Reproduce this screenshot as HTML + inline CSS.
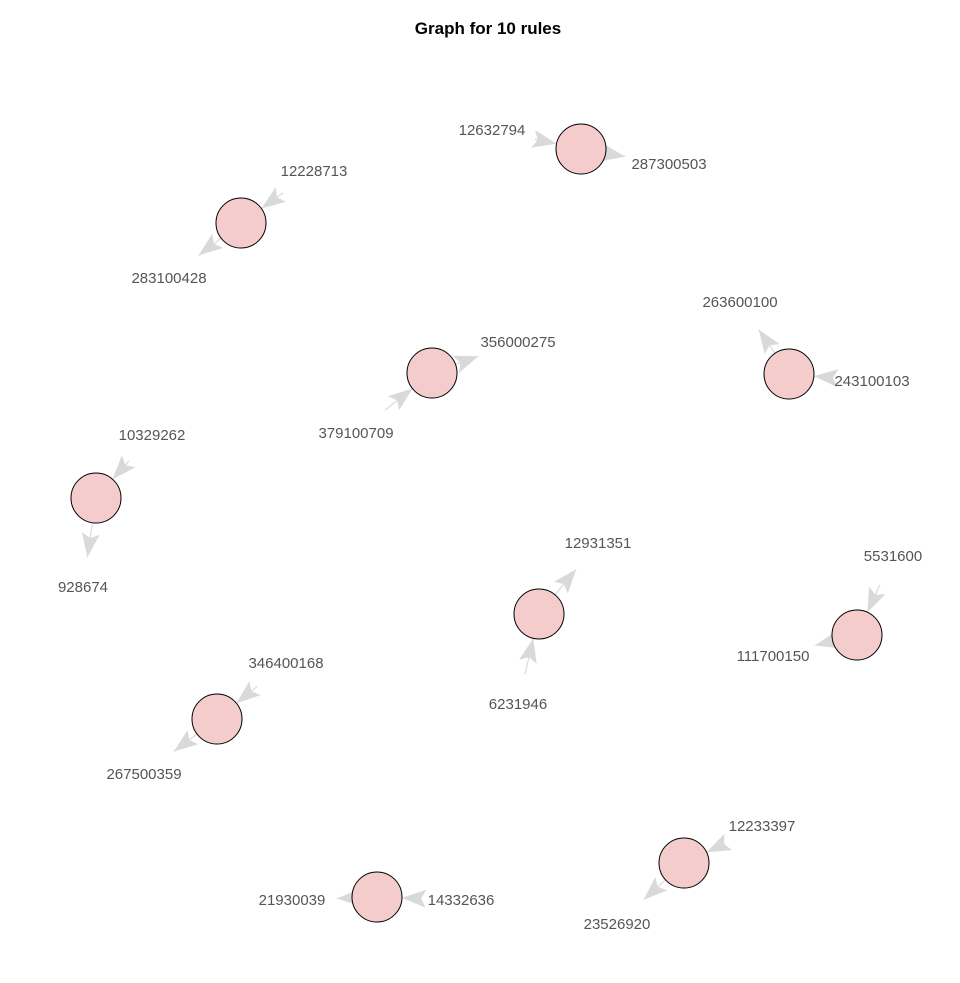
<!DOCTYPE html>
<html><head><meta charset="utf-8">
<style>
html,body{margin:0;padding:0;background:#fff;}
svg{display:block;font-family:"Liberation Sans",Arial,sans-serif;}
</style></head>
<body>
<svg id="chart" width="960" height="983" viewBox="0 0 960 983">
<text x="488" y="34" text-anchor="middle" font-size="17" font-weight="bold" fill="#000">Graph for 10 rules</text>
<g id="edges"></g>
<g id="nodes"></g>
<g id="labels"></g>
</svg>
<script>
const ruleX = [241, 581, 432, 789, 96, 539, 857, 217, 377, 684];
const ruleY = [223, 149, 373, 374, 498, 614, 635, 719, 897, 863];
const lhsItems = ["12228713","12632794","379100709","243100103","10329262","6231946","5531600","346400168","14332636","12233397"];
const lhsX = [314, 492, 356, 872, 152, 518, 893, 286, 461, 762];
const lhsY = [171, 130, 433, 381, 435, 704, 556, 663, 900, 826];
const rhsItems = ["283100428","287300503","356000275","263600100","928674","12931351","111700150","267500359","21930039","23526920"];
const rhsX = [169, 669, 518, 740, 83, 598, 773, 144, 292, 617];
const rhsY = [278, 164, 342, 302, 587, 543, 656, 774, 900, 924];

const NS="http://www.w3.org/2000/svg";
const R=25, A=45, B=30, L=24, W=9;
const gE=document.getElementById('edges'), gN=document.getElementById('nodes'), gL=document.getElementById('labels');
function mk(t,attrs,p){const e=document.createElementNS(NS,t);for(const k in attrs)e.setAttribute(k,attrs[k]);p.appendChild(e);return e;}
function labelDist(ux,uy){return 1/Math.sqrt((ux/A)*(ux/A)+(uy/B)*(uy/B));}
function arrow(x1,y1,x2,y2,name){
  const dx=x2-x1,dy=y2-y1,len=Math.hypot(dx,dy),ux=dx/len,uy=dy/len,px=-uy,py=ux;
  const ln=mk('line',{x1:x1,y1:y1,x2:x2,y2:y2,stroke:'#dadada','stroke-width':1.2},gE);
  
  
  const bx=x2-ux*L,by=y2-uy*L,nx=x2-ux*L*0.8,ny=y2-uy*L*0.8;
  const pts=[[x2,y2],[bx+px*W,by+py*W],[nx,ny],[bx-px*W,by-py*W]].map(p=>p[0].toFixed(1)+','+p[1].toFixed(1)).join(' ');
  const ah=mk('polygon',{points:pts,fill:'#d9d9d9'},gE);
  
  
}
for(let i=0;i<ruleX.length;i++){
  const cx=ruleX[i],cy=ruleY[i];
  let dx=cx-lhsX[i],dy=cy-lhsY[i],d=Math.hypot(dx,dy),ux=dx/d,uy=dy/d,ld=labelDist(ux,uy);
  arrow(lhsX[i]+ux*ld,lhsY[i]+uy*ld,cx-ux*R,cy-uy*R,'lhs-edge-'+(i+1));
  dx=rhsX[i]-cx;dy=rhsY[i]-cy;d=Math.hypot(dx,dy);ux=dx/d;uy=dy/d;ld=labelDist(ux,uy);
  arrow(cx+ux*R,cy+uy*R,rhsX[i]-ux*ld,rhsY[i]-uy*ld,'rhs-edge-'+(i+1));
  const c=mk('circle',{cx:cx,cy:cy,r:R,fill:'#f4cccc',stroke:'#000','stroke-width':1},gN);
  
  
  const t1=mk('text',{x:lhsX[i],y:lhsY[i]+5,'text-anchor':'middle','font-size':15,fill:'#555'},gL);
  t1.textContent=lhsItems[i];
  
  
  const t2=mk('text',{x:rhsX[i],y:rhsY[i]+5,'text-anchor':'middle','font-size':15,fill:'#555'},gL);
  t2.textContent=rhsItems[i];
  
  
}
</script>
</body></html>
